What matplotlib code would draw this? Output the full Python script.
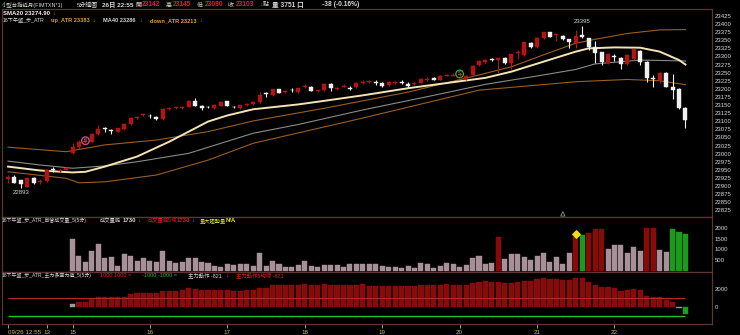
import matplotlib.pyplot as plt
import numpy as np

plt.rcParams['font.family'] = ['Liberation Sans', 'Noto Sans CJK TC', 'DejaVu Sans']

# 5-minute bars of the mini TAIEX future, 09/26 12:55 .. 22:55
opens = [22922, 22929, 22918, 22898, 22926, 22913, 22916, 22952, 22946, 22951,
         23003, 23020, 23036, 23037, 23061, 23078, 23072, 23068, 23076, 23091,
         23109, 23118, 23117, 23114, 23107, 23138, 23141, 23141, 23145, 23163,
         23147, 23145, 23140, 23148, 23161, 23145, 23140, 23150, 23154, 23159,
         23186, 23181, 23199, 23191, 23198, 23189, 23205, 23207, 23192, 23196,
         23215, 23200, 23207, 23203, 23205, 23218, 23221, 23221, 23219, 23212,
         23218, 23221, 23216, 23214, 23219, 23227, 23232, 23228, 23241, 23241,
         23243, 23230, 23243, 23273, 23282, 23292, 23289, 23296, 23279, 23310,
         23305, 23343, 23328, 23356, 23375, 23365, 23364, 23353, 23341, 23366,
         23356, 23328, 23313, 23279, 23302, 23296, 23276, 23291, 23318, 23284,
         23234, 23227, 23250, 23207, 23200, 23142]
highs = [22933, 22933, 22920, 22926, 22928, 22922, 22952, 22958, 22953, 22960,
         23034, 23042, 23045, 23063, 23087, 23083, 23076, 23080, 23096, 23112,
         23116, 23126, 23123, 23117, 23140, 23144, 23147, 23147, 23166, 23172,
         23150, 23148, 23152, 23161, 23163, 23148, 23151, 23157, 23161, 23191,
         23190, 23201, 23201, 23197, 23202, 23204, 23214, 23209, 23198, 23218,
         23217, 23206, 23214, 23208, 23222, 23226, 23228, 23228, 23221, 23225,
         23224, 23226, 23220, 23220, 23232, 23236, 23238, 23242, 23247, 23248,
         23249, 23242, 23273, 23290, 23292, 23294, 23296, 23298, 23309, 23320,
         23346, 23345, 23360, 23377, 23377, 23372, 23366, 23355, 23382, 23395,
         23358, 23348, 23315, 23309, 23309, 23298, 23307, 23324, 23320, 23286,
         23243, 23252, 23252, 23245, 23202, 23145]
lows = [22908, 22908, 22893, 22896, 22905, 22905, 22914, 22943, 22943, 22949,
        23000, 23015, 23032, 23035, 23058, 23068, 23060, 23066, 23074, 23089,
        23106, 23115, 23110, 23104, 23105, 23135, 23138, 23138, 23143, 23146,
        23136, 23140, 23138, 23146, 23146, 23140, 23138, 23147, 23151, 23157,
        23176, 23179, 23186, 23188, 23190, 23187, 23203, 23192, 23190, 23194,
        23194, 23198, 23205, 23195, 23203, 23216, 23219, 23212, 23206, 23210,
        23216, 23214, 23206, 23212, 23217, 23225, 23226, 23226, 23239, 23239,
        23240, 23226, 23241, 23270, 23279, 23286, 23248, 23278, 23260, 23292,
        23302, 23325, 23326, 23354, 23359, 23348, 23352, 23325, 23327, 23357,
        23320, 23281, 23274, 23277, 23286, 23260, 23274, 23289, 23274, 23222,
        23207, 23217, 23205, 23168, 23138, 23080]
closes = [22928, 22910, 22906, 22924, 22908, 22916, 22949, 22949, 22950, 22955,
          23020, 23037, 23040, 23061, 23076, 23075, 23069, 23078, 23091, 23109,
          23113, 23122, 23115, 23107, 23137, 23141, 23144, 23144, 23163, 23148,
          23140, 23143, 23150, 23159, 23148, 23143, 23149, 23154, 23158, 23181,
          23183, 23199, 23188, 23194, 23196, 23202, 23208, 23194, 23195, 23215,
          23202, 23203, 23210, 23201, 23219, 23221, 23224, 23219, 23210, 23222,
          23221, 23219, 23210, 23217, 23229, 23230, 23228, 23240, 23244, 23244,
          23246, 23240, 23271, 23287, 23289, 23289, 23294, 23281, 23307, 23313,
          23344, 23328, 23358, 23375, 23361, 23368, 23354, 23346, 23363, 23359,
          23330, 23312, 23282, 23307, 23297, 23277, 23305, 23322, 23284, 23234,
          23230, 23250, 23207, 23197, 23140, 23103]

# moving averages / ATR bands, read at selected bars
sma20_idx = [0, 5, 10, 12, 15, 20, 25, 28, 31, 34, 38, 45, 49, 55, 62, 68, 74, 78, 83, 88, 90, 94, 98, 101, 104, 105]
sma20_val = [22960, 22948, 22942, 22944, 22960, 22991, 23037, 23068, 23099, 23118, 23137, 23152, 23163, 23180,
             23202, 23218, 23234, 23253, 23284, 23315, 23325, 23328, 23327, 23315, 23289, 23275]
ma40_idx = [0, 5, 10, 15, 20, 28, 38, 45, 55, 65, 74, 83, 88, 91, 98, 105]
ma40_val = [22977, 22965, 22955, 22962, 22975, 23001, 23063, 23090, 23135, 23176, 23214, 23243, 23260, 23277,
            23289, 23286]
up_idx = [0, 9, 15, 23, 31, 38, 49, 62, 73, 78, 83, 88, 91, 96, 101, 105]
up_val = [23020, 23006, 23027, 23042, 23068, 23101, 23140, 23190, 23243, 23268, 23305, 23341, 23353, 23371,
          23382, 23383]
dn_idx = [0, 9, 11, 15, 23, 31, 38, 55, 73, 88, 96, 101, 105]
dn_val = [22944, 22924, 22910, 22913, 22934, 22980, 23032, 23110, 23196, 23222, 23229, 23225, 23213]

# volume and main-force indicator start with the night session (bar 10)
ind_start = 10
volume = [1490, 689, 421, 940, 1255, 610, 657, 233, 783, 689,
          453, 579, 453, 390, 925, 468, 374, 421, 579, 579,
          390, 343, 217, 154, 296, 264, 311, 296, 217, 815,
          217, 468, 296, 186, 186, 264, 468, 217, 186, 264,
          264, 264, 186, 311, 296, 296, 296, 296, 233, 154,
          154, 107, 217, 107, 374, 296, 107, 217, 343, 296,
          186, 264, 579, 689, 311, 374, 1569, 532, 783, 783,
          657, 500, 689, 815, 421, 626, 311, 815, 1600, 1679,
          1789, 1962, 1962, 1003, 1208, 1208, 815, 1129, 940, 1994,
          1994, 972, 862, 1947, 1805, 1730]
vol_red = [76, 88, 90, 91, 92, 99, 100]
vol_green = [89, 103, 104, 105]
force = [250, 565, 565, 830, 1060, 1060, 1060, 1060, 1130, 1390,
         1503, 1578, 1578, 1503, 1766, 1766, 1766, 1841, 2067, 1954,
         1879, 1841, 1841, 1841, 1841, 1766, 1766, 1841, 1841, 2142,
         2142, 2406, 2406, 2406, 2444, 2444, 2519, 2444, 2444, 2519,
         2406, 2406, 2444, 2444, 2444, 2519, 2377, 2377, 2377, 2377,
         2377, 2339, 2339, 2377, 2452, 2452, 2452, 2452, 2528, 2452,
         2452, 2452, 2716, 2829, 2904, 2829, 2829, 2641, 2641, 2754,
         2942, 2904, 3130, 3206, 3130, 3093, 3017, 3017, 3206, 3206,
         2829, 2452, 2189, 2189, 2076, 1774, 1887, 2000, 1887, 1209,
         1059, 1059, 757, 494, -200, -821]
force_gray = [10, 104]

tick_idx = [0, 6, 10, 22, 34, 46, 58, 70, 82, 94]
tick_lbl = ['09/26 12:55', '13', '15', '16', '17', '18', '19', '20', '21', '22']

W, H = 740, 335
BG = 'black'
FRAME = '#5e3434'
RED = '#b31414'
WHITE = '#f0f0f0'
TXT = '#d8d8d8'

fig = plt.figure(figsize=(W / 100, H / 100), dpi=100, facecolor=BG)


def px_axes(x0, y0, x1, y1):
    return fig.add_axes([x0 / W, 1 - y1 / H, (x1 - x0) / W, (y1 - y0) / H], facecolor=BG)


def ptext(x, y, s, color=TXT, size=5, weight='normal', ha='left'):
    fig.text(x / W, 1 - y / H, s, color=color, fontsize=size, fontweight=weight, ha=ha, va='center')


ax1 = px_axes(2, 9.5, 712, 216.5)
ax2 = px_axes(2, 216.5, 712, 271.5)
ax3 = px_axes(2, 271.5, 712, 323.5)

xmin = -0.93
xmax = xmin + 710 / 6.452
for ax in (ax1, ax2, ax3):
    ax.set_xlim(xmin, xmax)
    for sp in ax.spines.values():
        sp.set_color(FRAME)
        sp.set_linewidth(0.9)
    ax.yaxis.tick_right()
    ax.tick_params(axis='y', length=0, pad=2, labelsize=4.3, labelcolor=TXT)
    ax.tick_params(axis='x', bottom=False, labelbottom=False)

# ---- price panel ----
n = len(closes)
x = np.arange(n)
o = np.array(opens)
c = np.array(closes)
up = c >= o
cols = np.where(up, RED, WHITE)
ax1.vlines(x, lows, highs, colors=cols, lw=0.8, zorder=3)
body = np.maximum(np.abs(c - o), 1.0)
ax1.bar(x, body, bottom=np.minimum(o, c), width=0.62, color=cols, edgecolor=cols, lw=0.3, zorder=4)

ax1.plot(dn_idx, dn_val, color='#9a5e22', lw=0.8, zorder=2)
ax1.plot(up_idx, up_val, color='#9a5e22', lw=0.8, zorder=2)
ax1.plot(ma40_idx, ma40_val, color='#8a8a8a', lw=0.8, zorder=2)
ax1.plot(sma20_idx, sma20_val, color='#f4e4b4', lw=1.4, zorder=2)

ax1.set_ylim(22806, 23445)
ax1.set_yticks(np.arange(22825, 23426, 25))

hi_i = int(np.argmax(highs))
lo_i = int(np.argmin(lows))
ax1.text(hi_i, highs[hi_i] + 4, str(highs[hi_i]), color=TXT, fontsize=4.3, ha='center', va='bottom')
ax1.text(lo_i, lows[lo_i] - 4, str(lows[lo_i]), color=TXT, fontsize=4.3, ha='center', va='top')

# buy / sell signal marks
ax1.scatter([12], [23040], s=30, facecolor='none', edgecolor='#e0508c', lw=0.9, zorder=5)
ax1.text(12, 23040, 'B', color='#e0508c', fontsize=3.5, ha='center', va='center', zorder=6)
ax1.scatter([70], [23246], s=30, facecolor='none', edgecolor='#30b040', lw=0.9, zorder=5)
ax1.text(70, 23246, 'S', color='#30b040', fontsize=3.5, ha='center', va='center', zorder=6)
ax1.scatter([86], [22814], s=10, marker='^', facecolor='none', edgecolor='#909090', lw=0.6, zorder=5)

# ---- volume panel ----
vx = np.arange(ind_start, ind_start + len(volume))
vcol = []
for i in vx:
    if i in vol_red:
        vcol.append('#8a0a0a')
    elif i in vol_green:
        vcol.append('#1c9a1c')
    else:
        vcol.append('#a89098')
ax2.bar(vx, volume, width=0.78, color=vcol, edgecolor=vcol, lw=0.3)
ax2.scatter([88], [volume[88 - ind_start] + 120], marker='D', s=14, color='#f0e010', zorder=5)
ax2.set_ylim(-42, 2552)
ax2.set_yticks([500, 1000, 1500, 2000])

# ---- main-force panel ----
fx = np.arange(ind_start, ind_start + len(force))
fcol = []
for i, v in zip(fx, force):
    if i in force_gray:
        fcol.append('#9a9a9a')
    elif v < 0:
        fcol.append('#1ca01c')
    else:
        fcol.append('#880a0a')
ax3.bar(fx, force, width=0.8, color=fcol, edgecolor=fcol, lw=0.3, zorder=2)
ax3.hlines(1000, 0, n - 1, color='#b02828', lw=0.8, zorder=3)
ax3.hlines(-1000, 0, n - 1, color='#20c020', lw=1.0, zorder=3)
ax3.set_ylim(-1898, 3978)
ax3.set_yticks([0, 2000])

ax3.set_xticks(tick_idx)
ax3.set_xticklabels(tick_lbl)
ax3.tick_params(axis='x', bottom=True, labelbottom=True, direction='out', length=3, width=0.6,
                color='#c8c060', labelcolor='#c8c060', labelsize=4.5, pad=1.5)
for lbl in ax3.get_xticklabels()[:1]:
    lbl.set_ha('left')

# ---- header texts ----
R = '#e02020'
G = '#20c020'
ptext(2, 5, '小型台指近月(FIMTXN*1)', size=3.9)
ptext(77, 5, '5分鐘圖', size=4.3)
ptext(102, 5, '26日 22:55', size=4.6, weight='bold')
ptext(135, 5, '開', size=4.3)
ptext(142, 5, '23142', color=R, size=4.8, weight='bold')
ptext(166, 5, '高', size=4.3)
ptext(173, 5, '23145', color=R, size=4.8, weight='bold')
ptext(197, 5, '低', size=4.3)
ptext(205, 5, '23080', color=R, size=4.8, weight='bold')
ptext(228, 5, '收', size=4.3)
ptext(236, 5, '23103', color=R, size=4.8, weight='bold')
ptext(259, 5, '↓', color=G, size=4.6, weight='bold')
ptext(263, 5, '點', size=4.3)
ptext(272, 5, '量 3751 口', size=4.8, weight='bold')
ptext(322, 5, '-38 (-0.16%)', size=4.8, weight='bold')

ptext(3, 13.5, 'SMA20 23274.90', color='#f0f0f0', size=4.3, weight='bold')
ptext(52, 13.5, '↓', color=G, size=4.3, weight='bold')
ptext(3, 20.5, '16下午盤_步_ATR', size=3.7)
ptext(51, 20.5, 'up_ATR 23383', color='#e0a030', size=4.1, weight='bold')
ptext(92, 20.5, '↓', color=G, size=4.1, weight='bold')
ptext(103, 20.5, 'MA40 23286', color='#d0d0d0', size=4.1, weight='bold')
ptext(139, 20.5, '↓', color=G, size=4.1, weight='bold')
ptext(150, 20.5, 'down_ATR 23213', color='#e0a030', size=4.1, weight='bold')
ptext(199, 20.5, '↓', color=G, size=4.1, weight='bold')

ptext(2, 220.5, '16下午盤_步_ATR_自營成交量_5(5分)', size=3.6)
ptext(100, 220.5, '成交量能', size=3.8)
ptext(123, 220.5, '1730', size=4.3, weight='bold')
ptext(137, 220.5, '↓', color=G, size=4.3, weight='bold')
ptext(148, 220.5, '成交量能5均', color=R, size=3.8)
ptext(177, 220.5, '1730', color=R, size=4.3, weight='bold')
ptext(191, 220.5, '↓', color=G, size=4.3, weight='bold')
ptext(200, 220.5, '量大趨勢量', color='#e0e020', size=3.8)
ptext(226, 220.5, 'N/A', color='#e0e020', size=4.3, weight='bold')

ptext(2, 275.5, '16下午盤_步_ATR_主力多空力道_5(5分)', size=3.6)
ptext(100, 275.5, '1000 1000 =', color=R, size=4.0)
ptext(142, 275.5, '-1000 -1000 =', color=G, size=4.0)
ptext(188, 275.5, '主力動作 -821', size=3.9)
ptext(225, 275.5, '↓', color=G, size=4.1, weight='bold')
ptext(236, 275.5, '主力動作5均線 -821', color=R, size=3.9)

fig.savefig('out.png', dpi=100, facecolor=BG)
